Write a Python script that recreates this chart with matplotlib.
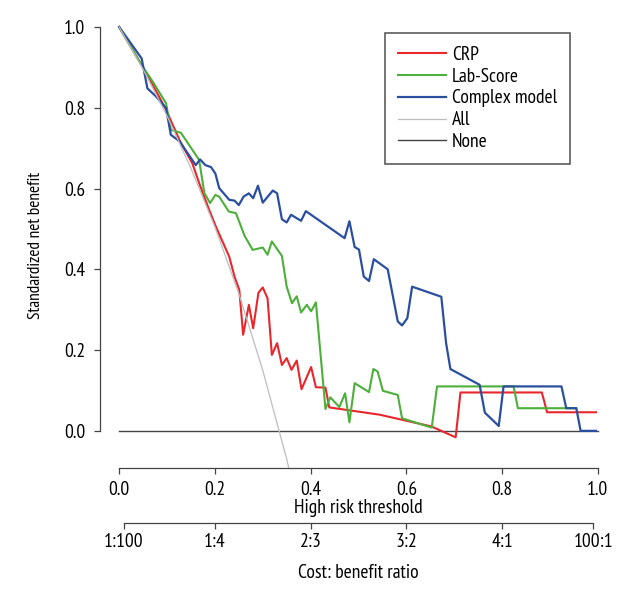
import matplotlib
matplotlib.use("Agg")
import matplotlib.pyplot as plt

# condensed font close to the original
plt.rcParams["font.family"] = ["PT Sans Narrow", "Roboto Condensed", "DejaVu Sans"]

# CRP
crp_x = [0.0, 0.028, 0.063, 0.098, 0.126, 0.153, 0.167, 0.188, 0.202, 0.230, 0.241, 0.251,
         0.259, 0.271, 0.280, 0.291, 0.300, 0.310, 0.319, 0.330, 0.340, 0.350, 0.360,
         0.371, 0.381, 0.401, 0.411, 0.431, 0.439, 0.544, 0.652, 0.703, 0.713, 0.883,
         0.894, 0.996]
crp_y = [1.0, 0.943, 0.873, 0.795, 0.720, 0.662, 0.614, 0.547, 0.506, 0.431, 0.382, 0.349,
         0.238, 0.312, 0.254, 0.342, 0.355, 0.328, 0.188, 0.217, 0.163, 0.180, 0.151,
         0.174, 0.103, 0.158, 0.108, 0.107, 0.058, 0.040, 0.011, -0.016, 0.095, 0.095,
         0.046, 0.046]

# Lab-Score
lab_x = [0.0, 0.049, 0.070, 0.098, 0.108, 0.129, 0.167, 0.178, 0.190, 0.201, 0.209, 0.229,
         0.244, 0.262, 0.279, 0.300, 0.310, 0.319, 0.340, 0.350, 0.361, 0.371, 0.380,
         0.392, 0.401, 0.411, 0.431, 0.441, 0.460, 0.472, 0.481, 0.492, 0.522, 0.531,
         0.540, 0.551, 0.582, 0.591, 0.653, 0.664, 0.824, 0.833, 0.955]
lab_y = [1.0, 0.902, 0.865, 0.811, 0.745, 0.738, 0.671, 0.589, 0.564, 0.584, 0.580, 0.543,
         0.539, 0.483, 0.448, 0.454, 0.436, 0.469, 0.433, 0.357, 0.316, 0.333, 0.293,
         0.312, 0.296, 0.318, 0.054, 0.083, 0.059, 0.093, 0.021, 0.118, 0.096, 0.153,
         0.147, 0.099, 0.089, 0.031, 0.008, 0.110, 0.110, 0.056, 0.056]

# Complex model
cm_x = [0.0, 0.047, 0.059, 0.077, 0.098, 0.108, 0.126, 0.160, 0.169, 0.180, 0.192, 0.201,
        0.209, 0.230, 0.241, 0.250, 0.260, 0.271, 0.280, 0.290, 0.300, 0.321, 0.330,
        0.340, 0.350, 0.359, 0.380, 0.390, 0.471, 0.481, 0.492, 0.501, 0.511, 0.522,
        0.532, 0.561, 0.582, 0.591, 0.602, 0.612, 0.673, 0.683, 0.692, 0.753, 0.764,
        0.793, 0.803, 0.924, 0.934, 0.955, 0.964, 0.996]
cm_y = [1.0, 0.922, 0.848, 0.828, 0.799, 0.733, 0.717, 0.658, 0.672, 0.658, 0.653, 0.637,
        0.601, 0.572, 0.570, 0.559, 0.580, 0.588, 0.576, 0.607, 0.565, 0.595, 0.588,
        0.524, 0.516, 0.535, 0.520, 0.544, 0.477, 0.519, 0.455, 0.449, 0.382, 0.371,
        0.425, 0.400, 0.271, 0.261, 0.279, 0.357, 0.332, 0.217, 0.153, 0.114, 0.045,
        0.012, 0.110, 0.110, 0.056, 0.056, 0.0, 0.0]

# treat all / treat none
all_x = [0.0, 0.05, 0.1, 0.15, 0.2, 0.25, 0.3, 0.35, 0.36]
all_y = [1.0, 0.895, 0.78, 0.65, 0.505, 0.34, 0.15, -0.07, -0.12]
none_x = [0.0, 1.0]
none_y = [0.0, 0.0]

ratio_pos = [1 / 101, 0.2, 0.4, 0.6, 0.8, 100 / 101]
ratio_lab = ["1:100", "1:4", "2:3", "3:2", "4:1", "100:1"]

fig = plt.figure(figsize=(6.4, 6.0), dpi=100)
ax = fig.add_axes([100 / 640, 1 - 468 / 600, 517 / 640, 458 / 600])

ax.plot(crp_x, crp_y, color="#e8262c", lw=1.5, label="CRP")
ax.plot(lab_x, lab_y, color="#4caf3a", lw=1.5, label="Lab-Score")
ax.plot(cm_x, cm_y, color="#2a4f9f", lw=1.6, label="Complex model")
ax.plot(all_x, all_y, color="#bdbdbd", lw=0.9, label="All")
ax.plot(none_x, none_y, color="#444444", lw=1.0, label="None", zorder=1)

ax.set_xlim(-0.04, 1.04)
ax.set_ylim(-0.092, 1.042)
for s in ["top", "right"]:
    ax.spines[s].set_visible(False)
ax.spines["left"].set_bounds(0, 1)
ax.spines["bottom"].set_bounds(0, 1)
for s in ["left", "bottom"]:
    ax.spines[s].set_color("#444444")
    ax.spines[s].set_linewidth(0.9)

ticks = [0.0, 0.2, 0.4, 0.6, 0.8, 1.0]
ax.set_xticks(ticks, [f"{t:.1f}" for t in ticks])
ax.set_yticks(ticks, [f"{t:.1f}" for t in ticks])
ax.tick_params(labelsize=14, length=4.5, width=0.9, color="#444444")
ax.tick_params(axis="x", pad=5)
ax.tick_params(axis="y", pad=6)
ax.set_xlabel("High risk threshold", fontsize=14, labelpad=0)
ax.set_ylabel("Standardized net benefit", fontsize=12.5)
ax.yaxis.set_label_coords(-0.108, 0.485)

ax2 = ax.secondary_xaxis(-0.12)
ax2.set_xticks(ratio_pos, ratio_lab)
ax2.spines["bottom"].set_bounds(ratio_pos[0], ratio_pos[-1])
ax2.spines["bottom"].set_color("#444444")
ax2.spines["bottom"].set_linewidth(0.9)
ax2.tick_params(labelsize=14, length=4.5, width=0.9, color="#444444", pad=3)
ax2.set_xlabel("Cost: benefit ratio", fontsize=14, labelpad=9)

leg = ax.legend(loc="upper left", bbox_to_anchor=(385 / 640, 1 - 33 / 600),
                bbox_transform=fig.transFigure, fontsize=14, frameon=True,
                fancybox=False, handlelength=2.5, labelspacing=0.2,
                borderpad=0.65, handletextpad=0.3, borderaxespad=0)
leg.get_frame().set_edgecolor("#333333")
leg.get_frame().set_linewidth(1.2)

fig.savefig("out.png", dpi=100)
